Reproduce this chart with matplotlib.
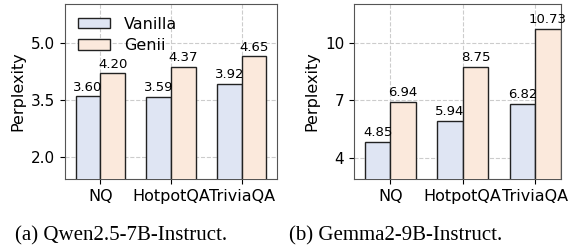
import numpy as np
import matplotlib.pyplot as plt

datasets = ['NQ', 'HotpotQA', 'TriviaQA']
qwen_vanilla = [3.60, 3.59, 3.92]
qwen_genii = [4.20, 4.37, 4.65]
gemma_vanilla = [4.85, 5.94, 6.82]
gemma_genii = [6.94, 8.75, 10.73]
qwen_ticks = [2.0, 3.5, 5.0]
gemma_ticks = [4, 7, 10]

c_van = '#dfe5f3'
c_gen = '#fbe9dc'

fig = plt.figure(figsize=(5.79, 2.52), dpi=100)
ax1 = fig.add_axes([65/579, 1-179/252, 212/579, 175/252])
ax2 = fig.add_axes([354/579, 1-179/252, 207/579, 175/252])


def draw(ax, van, gen, ticks, ylim, xmax, legend=False):
    x = np.arange(len(datasets))
    w = 0.35
    b1 = ax.bar(x - w/2, van, w, color=c_van, edgecolor='#222222', linewidth=1.0,
                label='Vanilla', zorder=3)
    b2 = ax.bar(x + w/2, gen, w, color=c_gen, edgecolor='#222222', linewidth=1.0,
                label='Genii', zorder=3)
    for bars, vals in ((b1, van), (b2, gen)):
        for b, v in zip(bars, vals):
            ax.text(b.get_x() + b.get_width()/2, v + (ylim[1]-ylim[0])*0.015,
                    f'{v:.2f}', ha='center', va='bottom', fontsize=9.5, zorder=4,
                    clip_on=False)
    ax.set_xticks(x)
    ax.set_xticklabels(datasets, fontsize=11.5)
    ax.set_yticks(ticks)
    ax.set_yticklabels([str(t) if isinstance(t, int) else f'{t:.1f}' for t in ticks],
                       fontsize=11)
    ax.set_ylim(*ylim)
    ax.set_xlim(-0.5, xmax)
    ax.set_ylabel('Perplexity', fontsize=11.5)
    ax.grid(True, linestyle='--', color='#cccccc', linewidth=0.8, zorder=0)
    for s in ax.spines.values():
        s.set_color('#555555')
    if legend:
        ax.legend(loc='upper left', frameon=False, fontsize=11.5, handlelength=2.0,
                  handleheight=0.65, handletextpad=0.9, borderaxespad=0.5,
                  borderpad=0.3, labelspacing=0.4)


draw(ax1, qwen_vanilla, qwen_genii, qwen_ticks, (1.43, 6.02), 2.5, legend=True)
draw(ax2, gemma_vanilla, gemma_genii, gemma_ticks, (2.91, 12.02), 2.355)

fig.text(121/579, 1-236/252, '(a) Qwen2.5-7B-Instruct.', ha='center', va='center',
         fontsize=15, family='Liberation Serif')
fig.text(396/579, 1-236/252, '(b) Gemma2-9B-Instruct.', ha='center', va='center',
         fontsize=15, family='Liberation Serif')

fig.savefig('out.png', dpi=100)
